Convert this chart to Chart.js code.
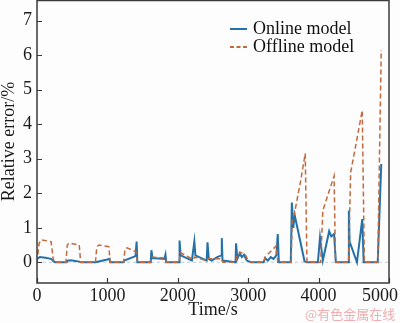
<!DOCTYPE html>
<html>
<head>
<meta charset="utf-8">
<script src="https://cdn.jsdelivr.net/npm/chart.js@4.4.0/dist/chart.umd.min.js"></script>
<style>
  html, body { margin: 0; padding: 0; background: #fdfdfd; }
</style>
</head>
<body>
<canvas id="myChart" width="400" height="323"></canvas>
<script>
const onlineTime = [0, 40, 120, 200, 240, 260, 420, 430, 480, 600, 620, 830, 1000, 1030, 1040,
    1230, 1240, 1400, 1415, 1425, 1615, 1625, 1640, 1810, 1825, 1835, 2020, 2025, 2040, 2200,
    2235, 2250, 2410, 2422, 2440, 2480, 2560, 2620, 2625, 2635, 2820, 2828, 2845, 2880, 2910,
    2940, 2980, 3040, 3220, 3240, 3280, 3320, 3360, 3400, 3420, 3435, 3605, 3620, 3640, 3660,
    3800, 3830, 3990, 4020, 4060, 4150, 4180, 4220, 4245, 4420, 4430, 4440, 4545, 4620, 4640,
    4840, 4890];
const onlineError = [0.1, 0.15, 0.13, 0.1, 0.02, 0, 0, 0.05, 0.06, 0.02, 0, 0, 0.08, 0.1, 0,
    0, 0.05, 0.18, 0.6, 0, 0, 0.35, 0.12, 0.1, 0.22, 0, 0, 0.63, 0.2, 0.05,
    0.6, 0.2, 0.05, 0.58, 0.1, 0.05, 0.15, 0.2, 0.7, 0.05, 0, 0.55, 0.1, 0.25, 0.15,
    0.22, 0.05, 0, 0, 0.12, 0.05, 0.15, 0.1, 0.2, 0.82, 0, 0, 1.73, 1.0, 1.37,
    0.03, 0, 0, 0.72, 0.05, 0.9, 0.75, 0.82, 0, 0, 1.5, 0.6, 0, 1.25, 0,
    0, 2.85];

const offlineTime = [0, 30, 60, 200, 230, 250, 410, 430, 460, 600, 620, 830, 850, 880, 1020, 1040,
    1230, 1250, 1280, 1410, 1425, 1620, 1635, 1820, 1835, 2020, 2035, 2220, 2240, 2400, 2420,
    2620, 2640, 2820, 2835, 2880, 2960, 3000, 3040, 3220, 3240, 3400, 3420, 3610, 3625, 3660,
    3740, 3810, 3835, 4030, 4060, 4220, 4240, 4425, 4455, 4620, 4650, 4840, 4890];
const offlineError = [0, 0.55, 0.65, 0.6, 0.1, 0, 0, 0.5, 0.56, 0.5, 0, 0, 0.45, 0.5, 0.45, 0,
    0, 0.38, 0.42, 0.3, 0, 0, 0.15, 0.12, 0, 0, 0.28, 0.08, 0.15, 0.05, 0.1,
    0.1, 0, 0, 0.15, 0.3, 0.22, 0.05, 0, 0, 0.15, 0.48, 0, 0, 1.2, 1.45,
    2.3, 3.15, 0, 0, 1.5, 2.5, 0, 0, 2.6, 4.4, 0, 0, 6.15];

const xTicks = [0, 1000, 2000, 3000, 4000, 5000];
const yTicks = [0, 1, 2, 3, 4, 5, 6, 7];

const toPoints = (xs, ys) => xs.map((t, i) => ({ x: t, y: ys[i] }));

const serif = "'Liberation Serif', 'Times New Roman', serif";

const framePlugin = {
    id: "frame",
    afterDraw(chart) {
        const { ctx, chartArea: a, scales } = chart;
        const x = scales.x, y = scales.y;
        ctx.save();
        ctx.strokeStyle = "#3a3a3a";
        ctx.lineWidth = 1.5;
        ctx.strokeRect(a.left, a.top + 0.5, a.right - a.left, a.bottom - a.top - 0.5);

        // inward tick marks
        ctx.lineWidth = 1.2;
        ctx.beginPath();
        yTicks.forEach(v => {
            const py = Math.round(y.getPixelForValue(v)) + 0.5;
            ctx.moveTo(a.left, py);
            ctx.lineTo(a.left + 5, py);
        });
        xTicks.forEach(v => {
            const px = Math.round(x.getPixelForValue(v)) + 0.5;
            ctx.moveTo(px, a.bottom);
            ctx.lineTo(px, a.bottom - 5);
        });
        ctx.stroke();

        // x tick labels (last one kept inside the canvas)
        ctx.fillStyle = "#1a1a1a";
        ctx.font = "18px " + serif;
        ctx.textAlign = "center";
        ctx.textBaseline = "top";
        xTicks.forEach(v => {
            const label = String(v);
            const w = ctx.measureText(label).width;
            let px = x.getPixelForValue(v);
            px = Math.min(px, chart.width - 2 - w / 2);
            ctx.fillText(label, px, a.bottom + 4);
        });

        // legend
        const items = chart.data.datasets.filter(d => d.label);
        ctx.textAlign = "left";
        ctx.textBaseline = "middle";
        items.forEach((d, i) => {
            const ly = 29 + i * 18;
            ctx.strokeStyle = d.borderColor;
            ctx.lineWidth = 2;
            ctx.setLineDash(d.borderDash ? [4, 2.5] : []);
            ctx.beginPath();
            ctx.moveTo(230, ly);
            ctx.lineTo(247, ly);
            ctx.stroke();
            ctx.setLineDash([]);
            ctx.fillStyle = "#111";
            ctx.fillText(d.label, 253, ly);
        });

        // watermark
        ctx.font = "13px 'Noto Sans CJK SC', sans-serif";
        ctx.fillStyle = "#f0aeb0";
        ctx.textAlign = "left";
        ctx.fillText("@有色金属在线", 305, 314);
        ctx.restore();
    }
};

const ctx = document.getElementById("myChart");

new Chart(ctx, {
    type: "line",
    data: {
        datasets: [
            {
                label: "Online model",
                data: toPoints(onlineTime, onlineError),
                borderColor: "#2470a8",
                borderWidth: 2,
                pointRadius: 0,
                tension: 0,
                order: 1,
            },
            {
                label: "Offline model",
                data: toPoints(offlineTime, offlineError),
                borderColor: "#c2693d",
                borderWidth: 1.5,
                borderDash: [5, 3],
                pointRadius: 0,
                tension: 0,
                order: 0,
            },
            {
                label: "",
                data: toPoints([0, 5000], [0, 0]),
                borderColor: "#b5d0e6",
                borderWidth: 1,
                borderDash: [3, 3],
                pointRadius: 0,
                order: 2,
            },
        ],
    },
    options: {
        responsive: false,
        animation: false,
        layout: { padding: { top: 0, right: 11, left: 0, bottom: 0 } },
        plugins: {
            legend: { display: false },
            tooltip: { enabled: false },
        },
        scales: {
            x: {
                type: "linear",
                min: 0,
                max: 5000,
                grid: { display: false },
                border: { display: false },
                ticks: { display: false },
                afterBuildTicks: s => { s.ticks = xTicks.map(v => ({ value: v })); },
                afterFit: s => { s.height = 40; s.paddingLeft = 0; s.paddingRight = 0; },
                title: {
                    display: true,
                    text: "Time/s",
                    color: "#1a1a1a",
                    font: { family: serif, size: 18, lineHeight: 1.2 },
                    padding: { top: 2, bottom: 2 },
                },
            },
            y: {
                min: -0.6,
                max: 7.6,
                grid: { display: false, drawTicks: false },
                border: { display: false },
                afterBuildTicks: s => { s.ticks = yTicks.map(v => ({ value: v })); },
                afterFit: s => { s.width = 37; s.paddingTop = 0; s.paddingBottom = 0; },
                ticks: {
                    color: "#1a1a1a",
                    padding: 5,
                    font: { family: serif, size: 18 },
                },
                title: {
                    display: true,
                    text: "Relative error/%",
                    color: "#1a1a1a",
                    font: { family: serif, size: 18, lineHeight: 1 },
                    padding: { top: 0, bottom: 0 },
                },
            },
        },
    },
    plugins: [framePlugin],
});
</script>
</body>
</html>
